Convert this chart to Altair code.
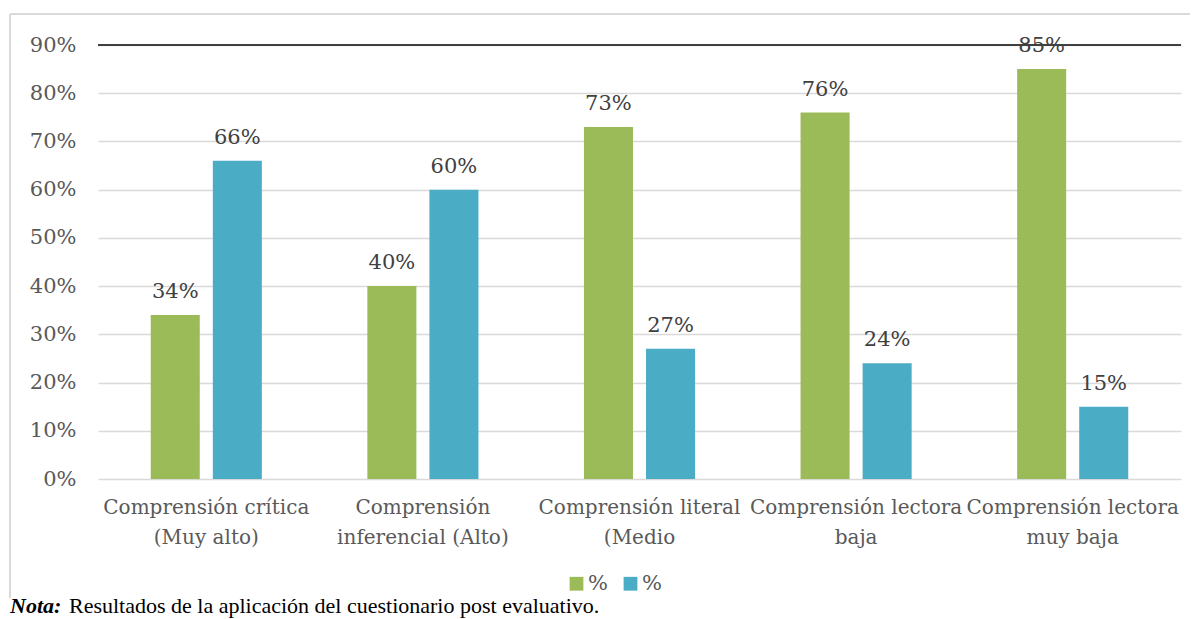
import altair as alt
import pandas as pd

categories = [
    "Comprensión crítica|(Muy alto)",
    "Comprensión|inferencial (Alto)",
    "Comprensión literal|(Medio",
    "Comprensión lectora|baja",
    "Comprensión lectora|muy baja",
]
series = ["Serie 1", "Serie 2"]
series_colors = ["#9BBB59", "#4BACC6"]
green_values = [0.34, 0.40, 0.73, 0.76, 0.85]
blue_values = [0.66, 0.60, 0.27, 0.24, 0.15]
y_ticks = [0.0, 0.1, 0.2, 0.3, 0.4, 0.5, 0.6, 0.7, 0.8, 0.9]
top_line = [0.9]
note_bold = "Nota:"
note_text = "Resultados de la aplicación del cuestionario post evaluativo."

rows = []
for c, g, b in zip(categories, green_values, blue_values):
    rows.append({"cat": c, "series": series[0], "value": g})
    rows.append({"cat": c, "series": series[1], "value": b})
df = pd.DataFrame(rows)

FONT = "DejaVu Serif"

x_enc = alt.X(
    "cat:N",
    sort=categories,
    scale=alt.Scale(paddingInner=0.487, paddingOuter=0.2435),
    axis=alt.Axis(
        title=None, labelAngle=0, labelExpr="split(datum.label, '|')",
        labelFont=FONT, labelFontSize=20, labelColor="#595959",
        labelLineHeight=30, labelPadding=18, ticks=False, domain=False,
        labelLimit=400,
    ),
)
xo_enc = alt.XOffset("series:N", sort=series, scale=alt.Scale(paddingInner=0.21, paddingOuter=0))
y_enc = alt.Y(
    "value:Q",
    scale=alt.Scale(domain=[0, 0.9], nice=False),
    axis=alt.Axis(
        title=None, values=y_ticks, format=".0%", grid=True, gridColor="#d9d9d9",
        gridWidth=1.5, domain=False, ticks=False, labelFont=FONT, labelFontSize=21,
        labelColor="#595959", labelPadding=22,
    ),
)

base = alt.Chart(df)

bars = base.mark_bar().encode(
    x=x_enc,
    xOffset=xo_enc,
    y=y_enc,
    color=alt.Color(
        "series:N",
        sort=series,
        scale=alt.Scale(domain=series, range=series_colors),
        legend=alt.Legend(
            title=None, orient="none", legendX=468, legendY=528, direction="horizontal",
            symbolType="square", symbolSize=190, symbolStrokeWidth=0,
            labelExpr="'%'", labelFont=FONT, labelFontSize=21, labelColor="#595959",
            columnPadding=12, labelOffset=1,
        ),
    ),
)

labels = base.mark_text(
    baseline="bottom", dy=-13, font=FONT, fontSize=21, color="#404040"
).encode(
    x=alt.X("cat:N", sort=categories),
    xOffset=alt.XOffset("series:N", sort=series),
    y="value:Q",
    text=alt.Text("value:Q", format=".0%"),
)

top_rule = alt.Chart(pd.DataFrame({"v": top_line})).mark_rule(
    color="#404040", strokeWidth=2
).encode(y="v:Q")

frame_df = pd.DataFrame({"k": [0]})
frame_left = alt.Chart(frame_df).mark_rule(color="#d9d9d9", strokeWidth=2).encode(
    x=alt.value(-88), y=alt.value(-31), y2=alt.value(553)
)
frame_top = alt.Chart(frame_df).mark_rule(color="#d9d9d9", strokeWidth=2).encode(
    x=alt.value(-88), x2=alt.value(1120), y=alt.value(-31)
)

note1 = alt.Chart(frame_df).mark_text(
    align="left", baseline="alphabetic", font="Liberation Serif", fontSize=22,
    fontWeight="bold", fontStyle="italic", color="#000000"
).encode(x=alt.value(-88), y=alt.value(568), text=alt.value(note_bold))
note2 = alt.Chart(frame_df).mark_text(
    align="left", baseline="alphabetic", font="Liberation Serif", fontSize=22,
    color="#000000"
).encode(x=alt.value(-29), y=alt.value(568), text=alt.value(note_text))

chart = alt.layer(
    frame_left, frame_top, bars, labels, top_rule, note1, note2
).properties(
    width=1083, height=434,
    autosize=alt.AutoSizeParams(type="none"),
    padding={"left": 90, "top": 37, "right": 9, "bottom": 140},
).configure_view(stroke=None)

chart.save("out.html", embed_options={"renderer": "svg", "actions": False})
